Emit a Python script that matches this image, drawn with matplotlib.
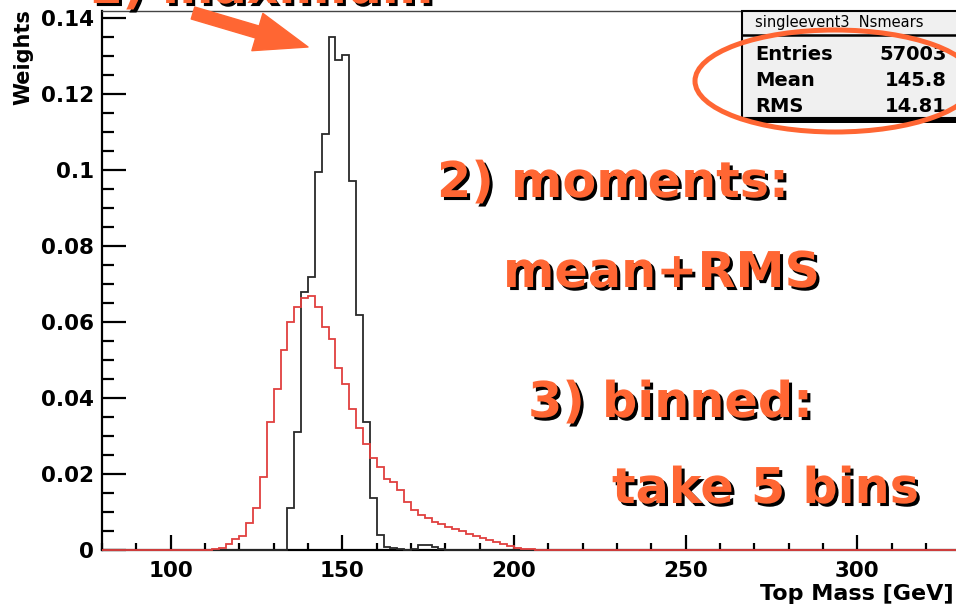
import numpy as np
import matplotlib.pyplot as plt
import matplotlib.patheffects as pe
from matplotlib.patches import Rectangle, Ellipse

# bin grid (2 GeV bins over the visible mass range)
bin_lo, bin_hi, bin_w = 80, 340, 2

# black histogram (narrow), first bin starts at 134 GeV
black_start = 134
black_vals = [0.0110, 0.0311, 0.0679, 0.0718, 0.0994, 0.1095, 0.1351, 0.1290,
              0.1303, 0.0972, 0.0618, 0.0337, 0.0136, 0.0039, 0.0009, 0.0005,
              0.0002, 0.0001, 0.0002, 0.0012, 0.0012, 0.0008, 0.0002]

# red histogram (smeared), first bin starts at 110 GeV
red_start = 110
red_vals = [0.0001, 0.0002, 0.0006, 0.0016, 0.0028, 0.0037, 0.0072, 0.0110,
            0.0193, 0.0337, 0.0425, 0.0526, 0.0600, 0.0639, 0.0662, 0.0668,
            0.0639, 0.0588, 0.0556, 0.0478, 0.0438, 0.0372, 0.0320, 0.0280,
            0.0241, 0.0219, 0.0188, 0.0180, 0.0158, 0.0127, 0.0105, 0.0092,
            0.0083, 0.0075, 0.0068, 0.0061, 0.0055, 0.0049, 0.0043, 0.0037,
            0.0031, 0.0026, 0.0021, 0.0015, 0.0010, 0.0006, 0.0003, 0.0002,
            0.0001, 0.0001]

xticks = [100, 150, 200, 250, 300]
yticks = [0, 0.02, 0.04, 0.06, 0.08, 0.1, 0.12, 0.14]
ytick_labels = ["0", "0.02", "0.04", "0.06", "0.08", "0.1", "0.12", "0.14"]

stats_title = "singleevent3  Nsmears"
stats_names = ["Entries", "Mean", "RMS"]
stats_values = ["57003", "145.8", "14.81"]

notes = ["1) maximum", "2) moments:", "mean+RMS", "3) binned:", "take 5 bins"]

W, H = 956, 606
orange = "#ff6633"


def fx(x):
    return x / W


def fy(y):
    return 1 - y / H


edges = np.arange(bin_lo, bin_hi + bin_w, bin_w)
black = np.zeros(len(edges) - 1)
i0 = (black_start - bin_lo) // bin_w
black[i0:i0 + len(black_vals)] = black_vals
red = np.zeros(len(edges) - 1)
i0 = (red_start - bin_lo) // bin_w
red[i0:i0 + len(red_vals)] = red_vals

fig = plt.figure(figsize=(W / 100, H / 100), dpi=100)
ax = fig.add_axes([fx(102), 56 / H, (bin_hi - bin_lo) * 3.433 / W, 539 / H])

ax.stairs(black, edges, color="#2a2a2a", lw=1.3, clip_on=False, zorder=3)
ax.stairs(red, edges, color="#e0403f", lw=1.3, clip_on=False, zorder=4)

ax.set_xlim(bin_lo, bin_hi)
ax.set_ylim(0, 1.05 * max(black_vals))
ax.set_xticks(xticks)
ax.set_xticklabels([str(v) for v in xticks])
ax.set_xticks(np.arange(bin_lo, bin_hi + 1, 10), minor=True)
ax.set_yticks(yticks)
ax.set_yticklabels(ytick_labels)
ax.set_yticks(np.arange(0, 0.1401, 0.005), minor=True)

ax.tick_params(axis="x", which="major", direction="in", length=11, width=1.6, pad=8)
ax.tick_params(axis="x", which="minor", direction="in", length=5, width=1.6)
ax.tick_params(axis="y", which="major", direction="in", length=17, width=1.6, pad=6)
ax.tick_params(axis="y", which="minor", direction="in", length=8.5, width=1.6)
ax.tick_params(top=False, right=False, which="both")
for lab in ax.get_xticklabels() + ax.get_yticklabels():
    lab.set_fontsize(15.5)
    lab.set_fontweight("bold")
ax.spines["left"].set_linewidth(1.6)
ax.spines["bottom"].set_linewidth(1.6)
ax.spines["top"].set_linewidth(1.0)
ax.spines["top"].set_color("#444444")
ax.spines["right"].set_visible(False)

fig.text(fx(23), fy(9), "Weights", rotation=90, ha="center", va="top",
         fontsize=15, fontweight="bold")
fig.text(fx(954), fy(594), "Top Mass [GeV]", ha="right", va="center",
         fontsize=16, fontweight="bold")

# stats box
fig.patches.append(Rectangle((fx(747), fy(123)), fx(240), 6 / H,
                             transform=fig.transFigure, fc="black", ec="none", zorder=5))
fig.patches.append(Rectangle((fx(742), fy(118)), fx(240), 107 / H,
                             transform=fig.transFigure, fc="#f0f0f0", ec="black",
                             lw=1.5, zorder=6))
fig.lines.append(plt.Line2D([fx(742), fx(980)], [fy(35), fy(35)],
                            transform=fig.transFigure, color="black", lw=1.8, zorder=7))
fig.text(fx(755), fy(22), stats_title, ha="left", va="center", fontsize=10.5, zorder=8)
for k, (name, val) in enumerate(zip(stats_names, stats_values)):
    yy = [55, 81, 107][k]
    fig.text(fx(755), fy(yy), name, ha="left", va="center", fontsize=14,
             fontweight="bold", zorder=8)
    fig.text(fx(947), fy(yy), val, ha="right", va="center", fontsize=14,
             fontweight="bold", zorder=8)

fig.patches.append(Ellipse((fx(835), fy(81)), fx(280), 102 / H, transform=fig.transFigure,
                           fill=False, ec=orange, lw=3.6, zorder=9))

# annotations
shadow = [pe.SimplePatchShadow(offset=(2.2, -2.2), shadow_rgbFace="black", alpha=1.0),
          pe.Normal()]
note_pos = [(88, 3), (437, 197), (503, 287), (528, 417), (612, 503)]
for txt, (x, y) in zip(notes, note_pos):
    fig.text(fx(x), fy(y), txt, ha="left", va="baseline", fontsize=35.5,
             fontweight="bold", color=orange, path_effects=shadow, zorder=10)

ax.annotate("", xy=(308, H - 47), xytext=(193, H - 13), xycoords="figure pixels",
            textcoords="figure pixels", annotation_clip=False,
            arrowprops=dict(arrowstyle="simple,head_length=1.9,head_width=1.4,tail_width=0.45",
                            color=orange, mutation_scale=20, shrinkA=0, shrinkB=0))

fig.savefig("out.png", dpi=100)
